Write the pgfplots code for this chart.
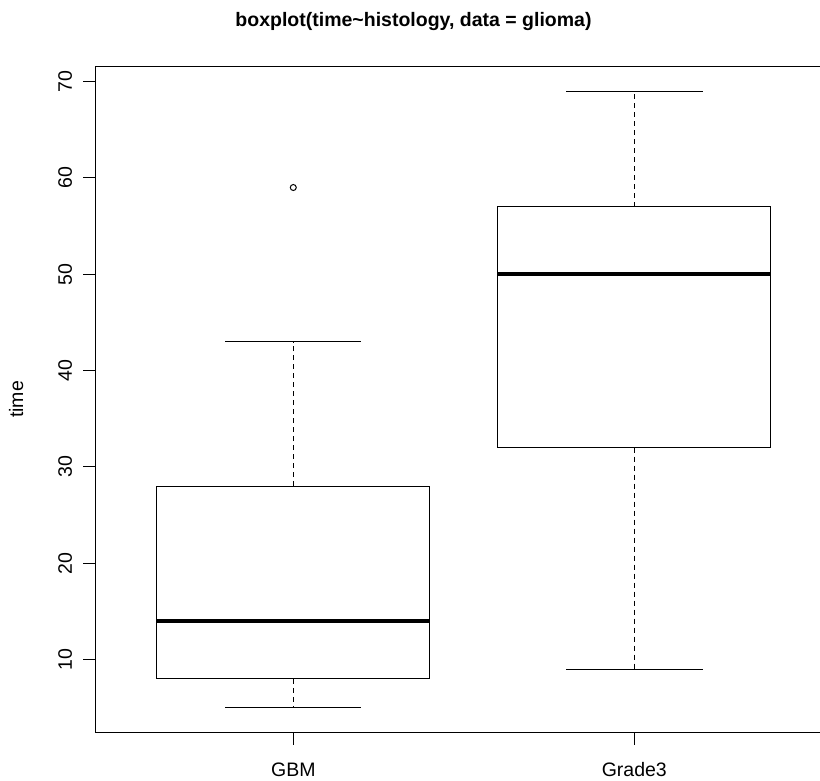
\documentclass[border=0pt]{standalone}
\usepackage{fontspec}
\setmainfont{Liberation Sans}
\usepackage{pgfplots}
\pgfplotsset{compat=1.18}
\usetikzlibrary{calc}
\begin{document}
\begin{tikzpicture}
\begin{axis}[
  scale only axis, width=736.6pt, height=666pt,
  xmin=0.42, xmax=2.58, ymin=2.44, ymax=71.56,
  xtick={1,2}, xticklabels={GBM,Grade3},
  ytick={10,20,...,70},
  tick align=outside, major tick length=12pt,
  xtick pos=bottom, ytick pos=left,
  tick style={black, line width=1.1pt},
  axis line style={black, line width=1.1pt},
  /pgf/number format/assume math mode=true,
  ticklabel style={font=\fontsize{19.5}{23}\selectfont},
  yticklabel style={rotate=90, anchor=base},
  xticklabel style={anchor=base},
  xticklabel shift=32.2pt,
  yticklabel shift=11.5pt,
  ylabel={time},
  ylabel style={font=\fontsize{19.5}{23}\selectfont, at={(axis description cs:-0.0984,0.5)}, anchor=base, rotate=0},
  title={boxplot(time\textasciitilde histology, data = glioma)},
  title style={font=\fontsize{19.5}{23}\selectfont\bfseries, at={(axis description cs:0.4317,1)}, anchor=base, yshift=33.5pt},
  clip=false,
]
% GBM: whiskers 5 / 43, box 8-28, median 14, outlier 59
\addplot[black, line width=1.1pt] coordinates {(0.6,8) (1.4,8) (1.4,28) (0.6,28) (0.6,8)};
\addplot[black, line width=3.6pt] coordinates {(0.6,14) (1.4,14)};
\addplot[black, line width=1.1pt, dash pattern=on 5pt off 4pt] coordinates {(1,28) (1,43)};
\addplot[black, line width=1.1pt, dash pattern=on 5pt off 4pt] coordinates {(1,8) (1,5)};
\addplot[black, line width=1.1pt] coordinates {(0.8,43) (1.2,43)};
\addplot[black, line width=1.1pt] coordinates {(0.8,5) (1.2,5)};
\addplot[only marks, mark=o, mark size=3pt, mark options={line width=1pt, black}] coordinates {(1,59)};
% Grade3: whiskers 9 / 69, box 32-57, median 50
\addplot[black, line width=1.1pt] coordinates {(1.6,32) (2.4,32) (2.4,57) (1.6,57) (1.6,32)};
\addplot[black, line width=3.6pt] coordinates {(1.6,50) (2.4,50)};
\addplot[black, line width=1.1pt, dash pattern=on 5pt off 4pt] coordinates {(2,57) (2,69)};
\addplot[black, line width=1.1pt, dash pattern=on 5pt off 4pt] coordinates {(2,32) (2,9)};
\addplot[black, line width=1.1pt] coordinates {(1.8,69) (2.2,69)};
\addplot[black, line width=1.1pt] coordinates {(1.8,9) (2.2,9)};
\end{axis}
\pgfresetboundingbox
\path[use as bounding box] ($(current axis.south west)+(-95.5pt,-47.5pt)$) rectangle ($(current axis.north west)+(724.5pt,66.5pt)$);
\end{tikzpicture}
\end{document}
